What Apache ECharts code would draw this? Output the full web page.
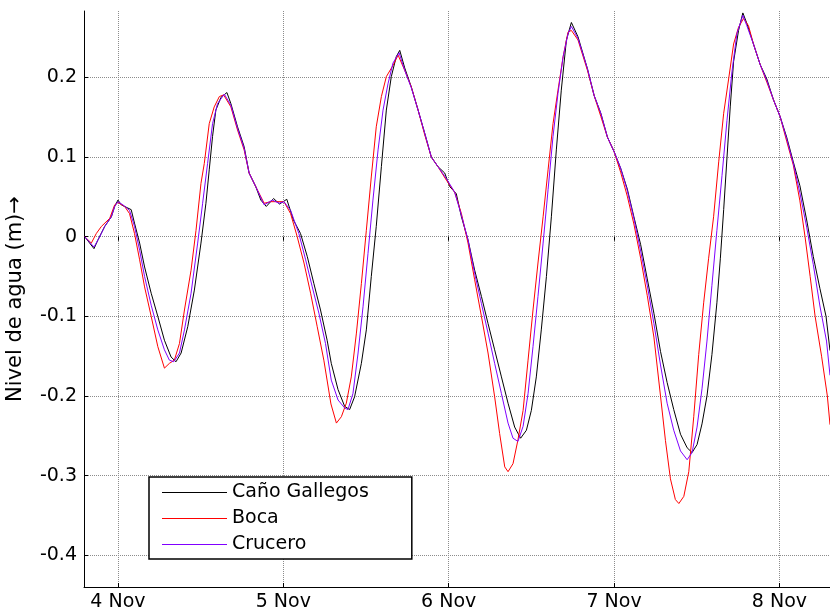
<!DOCTYPE html>
<html><head><meta charset="utf-8">
<script src="https://cdn.jsdelivr.net/npm/echarts@6/dist/echarts.min.js"></script>
<style>html,body{margin:0;padding:0;background:#fff}#c{width:830px;height:616px}</style>
</head><body><div id="c"></div>
<script>
// x = days since 4 Nov 00:00
const dayTicks = [0, 1, 2, 3, 4];
const dayLabels = ['4 Nov', '5 Nov', '6 Nov', '7 Nov', '8 Nov'];
const levelTicks = [-0.4, -0.3, -0.2, -0.1, 0, 0.1, 0.2];
const levelLabels = ['-0.4', '-0.3', '-0.2', '-0.1', '0', '0.1', '0.2'];
const seriesNames = ['Caño Gallegos', 'Boca', 'Crucero'];
const seriesColors = ['#000000', '#ff0000', '#8000ff'];
const yAxisTitle = 'Nivel de agua (m)\u2192';

const canoGallegos = [
[-0.201,0.000],[-0.145,-0.015],[-0.121,-0.004],[-0.080,0.013],[-0.040,0.025],[-0.020,0.038],[0.000,0.046],[0.020,0.040],[0.060,0.036],[0.080,0.034],[0.100,0.017],[0.131,-0.008],[0.161,-0.038],[0.201,-0.071],[0.241,-0.100],[0.281,-0.130],[0.321,-0.151],[0.351,-0.157],[0.382,-0.146],[0.422,-0.113],[0.462,-0.067],[0.502,-0.008],[0.532,0.042],[0.552,0.084],[0.572,0.126],[0.592,0.159],[0.623,0.175],[0.659,0.181],[0.683,0.167],[0.723,0.138],[0.763,0.113],[0.793,0.080],[0.833,0.063],[0.864,0.046],[0.897,0.038],[0.941,0.048],[0.977,0.041],[1.021,0.047],[1.061,0.021],[1.104,0.004],[1.145,-0.025],[1.185,-0.059],[1.225,-0.092],[1.265,-0.130],[1.290,-0.159],[1.331,-0.192],[1.371,-0.213],[1.401,-0.217],[1.431,-0.201],[1.472,-0.159],[1.502,-0.117],[1.532,-0.050],[1.562,0.013],[1.593,0.088],[1.623,0.159],[1.653,0.201],[1.683,0.226],[1.704,0.234],[1.734,0.212],[1.774,0.188],[1.815,0.159],[1.855,0.130],[1.895,0.100],[1.935,0.088],[1.976,0.080],[2.006,0.063],[2.046,0.054],[2.077,0.025],[2.117,-0.004],[2.157,-0.042],[2.198,-0.075],[2.238,-0.109],[2.278,-0.142],[2.319,-0.176],[2.359,-0.209],[2.399,-0.239],[2.435,-0.253],[2.470,-0.243],[2.500,-0.218],[2.530,-0.176],[2.560,-0.117],[2.591,-0.050],[2.621,0.025],[2.651,0.109],[2.681,0.184],[2.712,0.247],[2.742,0.269],[2.782,0.251],[2.839,0.211],[2.880,0.177],[2.920,0.155],[2.960,0.125],[3.000,0.107],[3.040,0.086],[3.080,0.060],[3.120,0.025],[3.161,-0.010],[3.201,-0.053],[3.241,-0.096],[3.281,-0.144],[3.321,-0.183],[3.361,-0.217],[3.402,-0.248],[3.442,-0.265],[3.472,-0.271],[3.502,-0.261],[3.532,-0.235],[3.562,-0.200],[3.592,-0.148],[3.622,-0.083],[3.643,-0.027],[3.663,0.034],[3.683,0.099],[3.703,0.164],[3.723,0.220],[3.753,0.259],[3.779,0.281],[3.803,0.268],[3.843,0.242],[3.884,0.216],[3.924,0.198],[3.964,0.172],[4.004,0.151],[4.044,0.125],[4.084,0.094],[4.124,0.064],[4.165,0.021],[4.205,-0.025],[4.245,-0.065],[4.282,-0.100],[4.306,-0.143]
];

const boca = [
[-0.201,0.000],[-0.161,-0.008],[-0.131,0.004],[-0.100,0.013],[-0.050,0.023],[-0.020,0.040],[0.000,0.043],[0.040,0.038],[0.070,0.029],[0.100,0.004],[0.131,-0.029],[0.161,-0.063],[0.201,-0.100],[0.241,-0.138],[0.281,-0.165],[0.311,-0.159],[0.341,-0.155],[0.372,-0.134],[0.402,-0.092],[0.442,-0.042],[0.472,0.008],[0.502,0.067],[0.522,0.092],[0.552,0.142],[0.582,0.163],[0.613,0.176],[0.639,0.178],[0.683,0.163],[0.723,0.134],[0.763,0.109],[0.793,0.080],[0.833,0.063],[0.884,0.042],[0.924,0.044],[0.974,0.044],[1.004,0.044],[1.044,0.029],[1.084,0.000],[1.125,-0.033],[1.165,-0.071],[1.205,-0.113],[1.245,-0.155],[1.288,-0.210],[1.321,-0.234],[1.351,-0.226],[1.381,-0.209],[1.411,-0.176],[1.442,-0.121],[1.472,-0.059],[1.502,0.008],[1.532,0.075],[1.562,0.138],[1.593,0.176],[1.623,0.201],[1.663,0.215],[1.694,0.228],[1.734,0.209],[1.774,0.188],[1.815,0.159],[1.855,0.128],[1.895,0.100],[1.935,0.088],[1.986,0.071],[2.036,0.056],[2.077,0.029],[2.117,-0.008],[2.157,-0.054],[2.198,-0.100],[2.238,-0.146],[2.278,-0.201],[2.308,-0.247],[2.339,-0.289],[2.359,-0.295],[2.389,-0.285],[2.419,-0.255],[2.450,-0.218],[2.480,-0.155],[2.510,-0.092],[2.540,-0.033],[2.571,0.025],[2.601,0.084],[2.631,0.142],[2.661,0.184],[2.692,0.226],[2.722,0.257],[2.742,0.259],[2.782,0.247],[2.839,0.209],[2.880,0.177],[2.920,0.151],[2.960,0.125],[3.000,0.107],[3.040,0.081],[3.080,0.051],[3.120,0.016],[3.161,-0.027],[3.201,-0.074],[3.241,-0.126],[3.281,-0.200],[3.311,-0.256],[3.341,-0.304],[3.371,-0.330],[3.392,-0.335],[3.422,-0.326],[3.452,-0.295],[3.482,-0.226],[3.512,-0.148],[3.542,-0.083],[3.572,-0.027],[3.602,0.025],[3.633,0.094],[3.663,0.155],[3.693,0.198],[3.723,0.242],[3.753,0.263],[3.783,0.274],[3.813,0.265],[3.843,0.242],[3.884,0.216],[3.924,0.194],[3.964,0.172],[4.004,0.151],[4.044,0.120],[4.084,0.090],[4.124,0.045],[4.155,0.000],[4.186,-0.050],[4.216,-0.100],[4.255,-0.150],[4.290,-0.200],[4.306,-0.236]
];

const crucero = [
[-0.201,0.000],[-0.145,-0.013],[-0.110,0.000],[-0.080,0.013],[-0.040,0.025],[-0.020,0.038],[0.000,0.044],[0.030,0.040],[0.070,0.033],[0.100,0.013],[0.131,-0.017],[0.161,-0.050],[0.201,-0.086],[0.241,-0.117],[0.281,-0.142],[0.311,-0.155],[0.337,-0.157],[0.372,-0.146],[0.402,-0.117],[0.442,-0.071],[0.482,-0.008],[0.512,0.042],[0.542,0.092],[0.572,0.142],[0.602,0.167],[0.643,0.179],[0.683,0.165],[0.723,0.136],[0.763,0.111],[0.793,0.080],[0.833,0.063],[0.884,0.040],[0.934,0.046],[0.974,0.042],[1.004,0.044],[1.044,0.033],[1.094,0.004],[1.135,-0.029],[1.175,-0.063],[1.215,-0.096],[1.255,-0.134],[1.290,-0.180],[1.331,-0.205],[1.371,-0.215],[1.391,-0.217],[1.421,-0.197],[1.452,-0.146],[1.482,-0.088],[1.512,-0.021],[1.542,0.046],[1.573,0.109],[1.603,0.159],[1.633,0.192],[1.663,0.218],[1.700,0.231],[1.734,0.209],[1.774,0.187],[1.815,0.159],[1.855,0.130],[1.895,0.100],[1.935,0.088],[1.986,0.073],[2.036,0.056],[2.077,0.027],[2.117,-0.004],[2.157,-0.046],[2.198,-0.084],[2.238,-0.121],[2.278,-0.159],[2.319,-0.197],[2.359,-0.234],[2.389,-0.253],[2.419,-0.257],[2.450,-0.238],[2.480,-0.197],[2.510,-0.138],[2.540,-0.075],[2.571,-0.008],[2.601,0.059],[2.631,0.126],[2.661,0.180],[2.692,0.226],[2.722,0.255],[2.742,0.264],[2.782,0.249],[2.839,0.211],[2.880,0.177],[2.920,0.155],[2.960,0.125],[3.000,0.107],[3.040,0.086],[3.080,0.058],[3.120,0.023],[3.161,-0.018],[3.201,-0.061],[3.241,-0.109],[3.281,-0.161],[3.321,-0.209],[3.361,-0.243],[3.402,-0.269],[3.442,-0.280],[3.472,-0.271],[3.502,-0.239],[3.532,-0.191],[3.562,-0.131],[3.592,-0.061],[3.622,0.008],[3.653,0.077],[3.683,0.146],[3.713,0.207],[3.743,0.255],[3.779,0.278],[3.803,0.265],[3.843,0.242],[3.884,0.216],[3.924,0.196],[3.964,0.172],[4.004,0.151],[4.044,0.123],[4.084,0.092],[4.124,0.055],[4.165,0.012],[4.205,-0.035],[4.245,-0.087],[4.285,-0.131],[4.306,-0.174]
];

const seriesData = [canoGallegos, boca, crucero];
const FONT = 'DejaVu Sans';
const gridLine = { show: true, lineStyle: { color: '#8c8c8c', type: 'dotted', width: 1 } };

const chart = echarts.init(document.getElementById('c'), null, { renderer: 'canvas' });
chart.setOption({
  animation: false,
  backgroundColor: '#ffffff',
  grid: { left: 84, right: 0, top: 11, bottom: 29, outerBoundsMode: 'none', containLabel: false },
  legend: {
    orient: 'vertical', left: 149, top: 477,
    data: seriesNames,
    icon: 'rect', itemWidth: 65, itemHeight: 1, itemGap: 7, itemTextGap: 6,
    padding: [6, 43, 5, 13],
    backgroundColor: '#ffffff', borderColor: '#000000', borderWidth: 1.5,
    textStyle: { fontFamily: FONT, fontSize: 19, color: '#000' }
  },
  xAxis: [{
    type: 'value', min: -0.2054, max: 4.306,
    axisLine: { show: true, onZero: false, lineStyle: { color: '#000', width: 1 } },
    axisTick: { show: true, inside: true, length: 4, customValues: dayTicks, lineStyle: { color: '#000' } },
    axisLabel: { customValues: dayTicks, margin: 6, fontFamily: FONT, fontSize: 19, color: '#000',
      formatter: v => { const i = dayTicks.findIndex(t => Math.abs(t - v) < 1e-6); return i >= 0 ? dayLabels[i] : ''; } },
    splitLine: gridLine
  }, {
    type: 'value', position: 'top', min: -0.2054, max: 4.306,
    axisLine: { show: false },
    axisTick: { show: true, inside: true, length: 4, customValues: dayTicks, lineStyle: { color: '#000' } },
    axisLabel: { show: false, customValues: dayTicks },
    splitLine: { show: false }
  }],
  yAxis: {
    type: 'value', min: -0.4398, max: 0.2834,
    name: yAxisTitle, nameLocation: 'middle', nameRotate: 90, nameGap: 58,
    nameTextStyle: { fontFamily: FONT, fontSize: 21, color: '#000' },
    axisLine: { show: true, onZero: false, lineStyle: { color: '#000', width: 1 } },
    axisTick: { show: true, inside: true, length: 4, customValues: levelTicks, lineStyle: { color: '#000' } },
    axisLabel: { customValues: levelTicks, margin: 7, fontFamily: FONT, fontSize: 19, color: '#000',
      formatter: v => { const i = levelTicks.findIndex(t => Math.abs(t - v) < 1e-6); return i >= 0 ? levelLabels[i] : ''; } },
    splitLine: gridLine
  },
  series: seriesNames.map((n, i) => ({
    name: n, type: 'line', xAxisIndex: 0, data: seriesData[i],
    showSymbol: false, symbol: 'none', color: seriesColors[i],
    lineStyle: { width: 1, color: seriesColors[i] }, clip: true
  }))
});
</script></body></html>
